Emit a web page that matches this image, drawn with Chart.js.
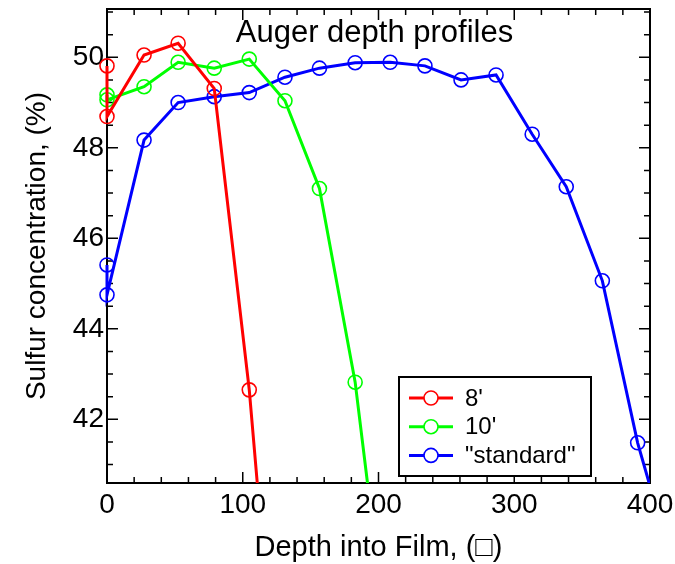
<!DOCTYPE html>
<html>
<head>
<meta charset="utf-8">
<title>Auger depth profiles</title>
<script src="https://cdn.jsdelivr.net/npm/chart.js@4.4.0/dist/chart.umd.min.js"></script>
<style>
  html, body { margin: 0; padding: 0; background: #fff; }
</style>
</head>
<body>
<canvas id="augerChart" width="675" height="564"></canvas>
<script>
// Colores y fuente
const COLORS = {
    red: "#ff0000",
    green: "#00ff00",
    blue: "#0000ff",
    axis: "#000000",
    text: "#000000",
    legendBg: "#ffffff"
};
const FONT = '"Liberation Sans", Arial, sans-serif';

// Perfil 8'
const DEPTH_8 = [0, 0, 27.3, 52.4, 79, 104.8, 131];
const SULFUR_8 = [49.81, 48.69, 50.05, 50.31, 49.31, 42.65, 33.5];

// Perfil 10'
const DEPTH_10 = [0, 0, 27.3, 52.4, 79, 104.8, 131.1, 156.5, 182.8, 208.6];
const SULFUR_10 = [49.17, 49.06, 49.35, 49.89, 49.76, 49.96, 49.04, 47.1, 42.82, 36.5];

// Perfil "standard"
const DEPTH_STD = [0, 0, 27.3, 52.4, 79, 104.8, 131.1, 156.5, 182.8, 208.6, 234.2, 260.8, 286.6, 313.2, 338.3, 364.9, 390.9, 417];
const SULFUR_STD = [45.41, 44.75, 48.17, 49.0, 49.13, 49.22, 49.56, 49.76, 49.88, 49.89, 49.81, 49.5, 49.61, 48.3, 47.14, 45.06, 41.48, 38.74];

// Ejes
const X_TICKS = [0, 100, 200, 300, 400];
const Y_TICKS = [42, 44, 46, 48, 50];
const X_RANGE = [0, 400];
const Y_RANGE = [40.592, 51.067];

function toPoints(xs, ys) {
    return xs.map((x, i) => ({ x: x, y: ys[i] }));
}

function series(label, xs, ys, color) {
    return {
        label: label,
        data: toPoints(xs, ys),
        borderColor: color,
        backgroundColor: "transparent",
        borderWidth: 3,
        tension: 0,
        pointRadius: 7,
        pointHoverRadius: 7,
        pointBorderWidth: 1.6,
        pointBorderColor: color,
        pointBackgroundColor: "transparent",
        clip: { left: 12, top: 0, right: 0, bottom: 0 }
    };
}

// Marco y marcas hacia dentro en los cuatro lados
const frameTicks = {
    id: "frameTicks",
    beforeDatasetsDraw(chart) {
        const { ctx, chartArea: a, scales: { x, y } } = chart;
        const major = 11, minor = 6;
        ctx.save();
        ctx.strokeStyle = COLORS.axis;
        ctx.lineWidth = 1.5;
        ctx.beginPath();
        for (let i = 0; i <= 20; i++) {
            const px = x.getPixelForValue(i * 20);
            const len = i % 5 === 0 ? major : minor;
            ctx.moveTo(px, a.bottom); ctx.lineTo(px, a.bottom - len);
            ctx.moveTo(px, a.top); ctx.lineTo(px, a.top + len);
        }
        for (let i = 82; i <= 102; i++) {
            const v = i / 2;
            const py = y.getPixelForValue(v);
            const len = i % 4 === 0 ? major : minor;
            ctx.moveTo(a.left, py); ctx.lineTo(a.left + len, py);
            ctx.moveTo(a.right, py); ctx.lineTo(a.right - len, py);
        }
        ctx.stroke();
        ctx.lineWidth = 2;
        ctx.strokeRect(a.left, a.top, a.right - a.left, a.bottom - a.top);
        ctx.restore();
    }
};

// Título dentro del área y leyenda con recuadro
const insideLabels = {
    id: "insideLabels",
    afterDraw(chart) {
        const { ctx, chartArea: a } = chart;
        ctx.save();
        ctx.fillStyle = COLORS.text;
        ctx.font = "31px " + FONT;
        ctx.textAlign = "center";
        ctx.textBaseline = "alphabetic";
        ctx.fillText("Auger depth profiles", (a.left + a.right) / 2 - 4, a.top + 33);

        const box = { x: a.right - 251, y: a.bottom - 106, w: 192, h: 99 };
        ctx.fillStyle = COLORS.legendBg;
        ctx.fillRect(box.x, box.y, box.w, box.h);
        ctx.strokeStyle = COLORS.axis;
        ctx.lineWidth = 2;
        ctx.strokeRect(box.x, box.y, box.w, box.h);

        ctx.font = "24px " + FONT;
        ctx.textAlign = "left";
        ctx.textBaseline = "middle";
        chart.data.datasets.forEach((ds, i) => {
            const ry = box.y + 21 + i * 28.7;
            ctx.strokeStyle = ds.borderColor;
            ctx.lineWidth = 3;
            ctx.beginPath();
            ctx.moveTo(box.x + 10, ry);
            ctx.lineTo(box.x + 54, ry);
            ctx.stroke();
            ctx.lineWidth = 1.6;
            ctx.fillStyle = COLORS.legendBg;
            ctx.beginPath();
            ctx.arc(box.x + 32, ry, 7, 0, Math.PI * 2);
            ctx.fill();
            ctx.stroke();
            ctx.fillStyle = COLORS.text;
            ctx.fillText(ds.label, box.x + 66, ry + 1);
        });
        ctx.restore();
    }
};

document.addEventListener("DOMContentLoaded", function () {
    const ctx = document.getElementById("augerChart");

    new Chart(ctx, {
        type: "line",
        data: {
            datasets: [
                series("8'", DEPTH_8, SULFUR_8, COLORS.red),
                series("10'", DEPTH_10, SULFUR_10, COLORS.green),
                series('"standard"', DEPTH_STD, SULFUR_STD, COLORS.blue)
            ]
        },
        options: {
            responsive: false,
            animation: false,
            layout: {
                padding: { left: 0, right: 25, top: 9, bottom: 0 }
            },
            scales: {
                x: {
                    type: "linear",
                    min: X_RANGE[0],
                    max: X_RANGE[1],
                    grid: { display: false, drawTicks: false },
                    border: { display: false },
                    afterBuildTicks: s => { s.ticks = X_TICKS.map(v => ({ value: v })); },
                    afterFit: s => { s.height = 81; s.paddingLeft = 0; s.paddingRight = 0; },
                    ticks: {
                        color: COLORS.text,
                        font: { family: FONT, size: 28 },
                        padding: 5,
                        maxRotation: 0,
                        autoSkip: false
                    },
                    title: {
                        display: true,
                        text: "Depth into Film, (\u25A1)",
                        color: COLORS.text,
                        font: { family: FONT, size: 29, lineHeight: 1.0 },
                        padding: { top: 0, bottom: 2 }
                    }
                },
                y: {
                    type: "linear",
                    min: Y_RANGE[0],
                    max: Y_RANGE[1],
                    grid: { display: false, drawTicks: false },
                    border: { display: false },
                    afterBuildTicks: s => { s.ticks = Y_TICKS.map(v => ({ value: v })); },
                    afterFit: s => { s.width = 107; s.paddingTop = 0; s.paddingBottom = 0; },
                    ticks: {
                        color: COLORS.text,
                        font: { family: FONT, size: 28 },
                        padding: 3,
                        autoSkip: false
                    },
                    title: {
                        display: true,
                        text: "Sulfur concentration, (%)",
                        color: COLORS.text,
                        font: { family: FONT, size: 28, lineHeight: 1.2 },
                        padding: { top: 20, bottom: 0 }
                    }
                }
            },
            plugins: {
                legend: { display: false },
                tooltip: { enabled: false }
            }
        },
        plugins: [frameTicks, insideLabels]
    });
});
</script>
</body>
</html>
